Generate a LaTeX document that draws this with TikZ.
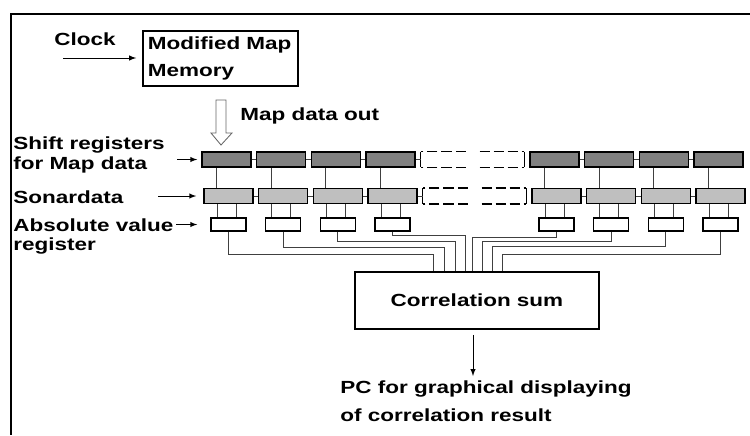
\documentclass[tikz,border=0pt]{standalone}
\usepackage{fontspec}
\setsansfont{Liberation Sans}[FakeStretch=1.28]
\usetikzlibrary{arrows}
\usetikzlibrary{calc}

\begin{document}
\begin{tikzpicture}[x=0.025cm,y=-0.025cm,
  every node/.style={font=\sffamily\bfseries\fontsize{12.5}{14.2}\selectfont},
  txt/.style={inner sep=0pt,align=left},
  mapreg/.style={draw,line width=1.1pt,fill=black!50,minimum width=1.225cm,minimum height=0.375cm,inner sep=0pt},
  sonreg/.style={mapreg,fill=black!25},
  absreg/.style={draw,line width=1.1pt,fill=white,minimum width=0.875cm,minimum height=0.325cm,inner sep=0pt},
  holdreg/.style={minimum width=2.575cm,minimum height=0.375cm,inner sep=0pt},
  holdline/.style={line width=1.1pt,dash pattern=on 0.25cm off 0.1cm},
  wire/.style={black!75,line width=0.6pt},
  feed/.style={black,line width=0.7pt,-latex}]
\useasboundingbox (0,0) rectangle (750,435);
\draw [line width=1.4pt] (750,14) -- (11,14) -- (11,435);
%% memory and clock
\node [draw,line width=1.2pt,align=left,text width=3.625cm,minimum height=1.375cm,inner xsep=0.125cm,
       font=\sffamily\bfseries\fontsize{12.5}{19}\selectfont] (mem) at (220.5,58.5) {Modified Map\\Memory};
\node [txt] (clock) at (85,39) {Clock};
\coordinate (clkin) at (63,58);
\draw [feed,shorten >=0.15cm] (clkin) -- (clkin -| mem.west);
\draw [black!60,line width=0.6pt] (216,100) -- (226,100) -- (226,133) -- (232,133) -- (221,145) -- (211,133) -- (216,133) -- cycle;
\node [txt,anchor=west] (mdo) at (240,116) {Map data out};
%% labels on the left
\node [txt,anchor=west] (shl) at (13,155) {Shift registers\\for Map data};
\node [txt,anchor=west] (sol) at (13,197) {Sonardata};
\node [txt,anchor=west,font=\sffamily\bfseries\fontsize{12.5}{13.5}\selectfont] (abl) at (13,236) {Absolute value\\register};
%% register rows
\foreach \i/\k in {1/0,2/1,3/2,4/3,5/6,6/7,7/8,8/9} {
   \node [mapreg] (m\i) at ({226.5+54.67*\k},159.5) {};
   \node [sonreg] (s\i) at ({228.5+54.67*\k},196) {};
   \node [absreg] (a\i) at ({228.5+54.67*\k},224.5) {};
}
\node [holdreg] (md) at (472.5,159.5) {};
\node [holdreg] (sd) at (474.5,196) {};
\foreach \r in {md,sd} {
   \draw [holdline] ($(\r.north)+(-7,0)$) -- (\r.north west) ($(\r.south)+(-7,0)$) -- (\r.south west)
                    ($(\r.north)+(7,0)$) -- (\r.north east) ($(\r.south)+(7,0)$) -- (\r.south east);
   \draw [line width=1.1pt] (\r.north west) -- (\r.south west) (\r.north east) -- (\r.south east);
}
\foreach \i/\j in {1/2,2/3,3/4,5/6,6/7,7/8} {
   \draw [wire] (m\i.east) -- (m\j.west);
   \draw [wire] (s\i.east) -- (s\j.west);
}
\draw [wire] (m4.east) -- (md.west);
\draw [wire] (s4.east) -- (sd.west);
\foreach \i in {1,...,8} {
   \coordinate (ms) at ($(m\i.south)+(-10,0)$);
   \draw [wire] (ms) -- (ms |- s\i.north);
   \coordinate (sl) at ($(a\i.north)+(-11.5,0)$);
   \coordinate (sr) at ($(a\i.north)+(7.5,0)$);
   \draw [wire] (sl) -- (sl |- s\i.south) (sr) -- (sr |- s\i.south);
}
%% sum
\node [draw,line width=1.2pt,minimum width=6.1cm,minimum height=1.425cm] (corr) at (477,300.5) {Correlation sum};
\foreach \i/\cx/\cy in {1/433/254,2/444/247,3/455/241,4/465/235,5/472/237,6/482/241,7/492/246,8/502/254}
   \draw [wire] (a\i.south) |- (\cx,\cy) -- (\cx,\cy |- corr.north);
\node [txt,anchor=north west,font=\sffamily\bfseries\fontsize{12.5}{19.9}\selectfont] (pc) at (340,380)
      {PC for graphical displaying\\of correlation result};
\coordinate (out) at ($(corr.south)+(-4,0)$);
\draw [feed,shorten <=0.125cm,shorten >=0.1cm] (out) -- (out |- pc.north);
%% inputs
\coordinate (mapin) at (177,159.5);
\draw [feed,shorten >=0.1cm] (mapin) -- (m1.west);
\coordinate (sonin) at (158,196);
\draw [feed,shorten >=0.175cm] (sonin) -- (s1.west);
\coordinate (absin) at (176,224.5);
\draw [feed,shorten >=0.325cm] (absin) -- (a1.west);
\end{tikzpicture}
\end{document}
